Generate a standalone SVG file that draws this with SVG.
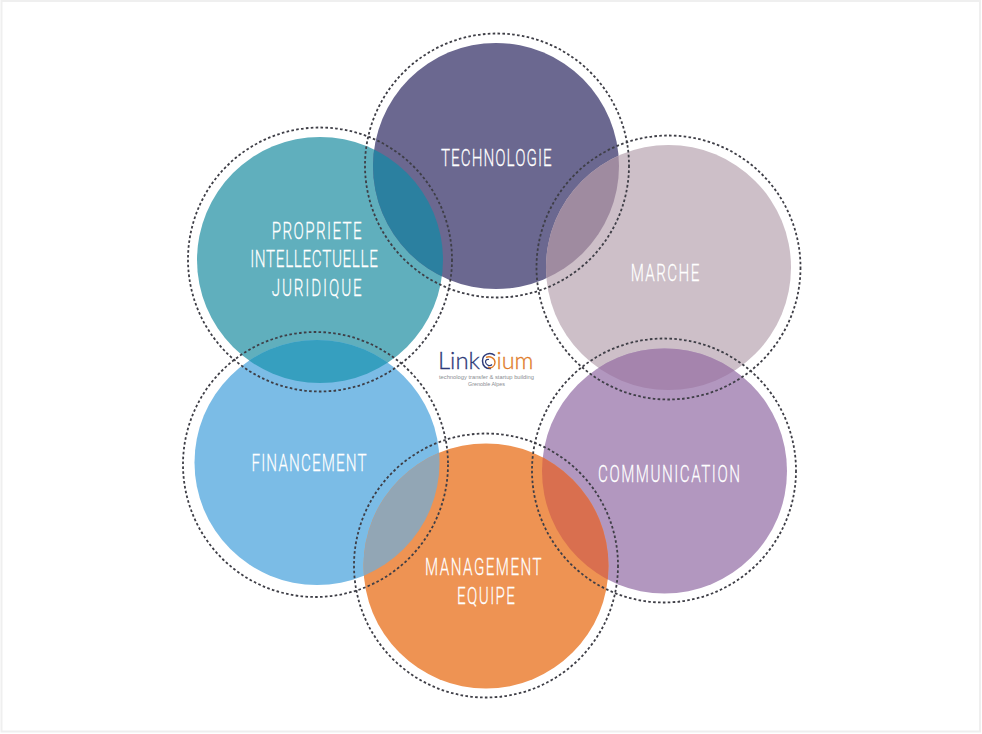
<svg xmlns="http://www.w3.org/2000/svg" width="982" height="734" viewBox="0 0 982 734">
<style>
.dot{fill:none;stroke:#3e3e46;stroke-width:1.800;stroke-dasharray:2.600 2.300}
.lbl{font-family:"Roboto","Liberation Sans",sans-serif;font-weight:300;font-size:24.500px;fill:#fff;stroke:#fff;stroke-width:.25;text-anchor:middle}
.sub{font-family:"Liberation Sans",sans-serif;font-size:5.200px;fill:#8a8d92;text-anchor:middle}
.logo{font-family:"Lato","Liberation Sans",sans-serif;font-weight:300;font-size:24px;stroke-width:.3}
</style>
<defs>
<clipPath id="cT"><circle cx="496" cy="166" r="123"/></clipPath>
<clipPath id="cC"><circle cx="664.500" cy="471" r="122.500"/></clipPath>
<clipPath id="cE"><circle cx="486" cy="566" r="122.500"/></clipPath>
<clipPath id="cF"><circle cx="317" cy="462.500" r="122.500"/></clipPath>
</defs>
<rect x="1.500" y="1" width="978.500" height="730.500" fill="#fff" stroke="#efefef" stroke-width="2"/>
<g id="node-propriete">
<circle cx="320" cy="260" r="123" fill="#60afbd"/>
<text class="lbl" transform="translate(316.700 239) scale(.62 1)" textLength="145" lengthAdjust="spacing">PROPRIETE</text>
<text class="lbl" transform="translate(314 267) scale(.62 1)" textLength="206" lengthAdjust="spacing">INTELLECTUELLE</text>
<text class="lbl" transform="translate(316.700 295.500) scale(.62 1)" textLength="145" lengthAdjust="spacing">JURIDIQUE</text>
</g>
<g id="node-technologie">
<circle cx="496" cy="166" r="123" fill="#6b6890"/>
<g clip-path="url(#cT)"><circle cx="320" cy="260" r="123" fill="#2b80a0"/></g>
<text class="lbl" transform="translate(496.300 166) scale(.62 1)" textLength="178.500" lengthAdjust="spacing">TECHNOLOGIE</text>
</g>
<g id="node-marche">
<circle cx="668.500" cy="267.500" r="122.500" fill="#cdbfc8"/>
<g clip-path="url(#cT)"><circle cx="668.500" cy="267.500" r="122.500" fill="#9f8ba0"/></g>
<text class="lbl" transform="translate(665 281) scale(.62 1)" textLength="110.600" lengthAdjust="spacing">MARCHE</text>
</g>
<g id="node-financement">
<circle cx="317" cy="462.500" r="122.500" fill="#7bbce6"/>
<g clip-path="url(#cF)"><circle cx="320" cy="260" r="123" fill="#369fbf"/></g>
<text class="lbl" transform="translate(309 470.700) scale(.62 1)" textLength="185.500" lengthAdjust="spacing">FINANCEMENT</text>
</g>
<g id="node-communication">
<circle cx="664.500" cy="471" r="122.500" fill="#b297bf"/>
<g clip-path="url(#cC)"><circle cx="668.500" cy="267.500" r="122.500" fill="#a584ad"/></g>
<text class="lbl" transform="translate(669 481.700) scale(.62 1)" textLength="229" lengthAdjust="spacing">COMMUNICATION</text>
</g>
<g id="node-management">
<circle cx="486" cy="566" r="122.500" fill="#ee9353"/>
<g clip-path="url(#cE)"><circle cx="317" cy="462.500" r="122.500" fill="#92a6b5"/></g>
<g clip-path="url(#cE)"><circle cx="664.500" cy="471" r="122.500" fill="#d96f4f"/></g>
<text class="lbl" transform="translate(483.300 575.300) scale(.62 1)" textLength="188" lengthAdjust="spacing">MANAGEMENT</text>
<text class="lbl" transform="translate(486 604) scale(.62 1)" textLength="93.500" lengthAdjust="spacing">EQUIPE</text>
</g>
<g id="connectors">
<circle class="dot" cx="320" cy="259.500" r="132"/>
<circle class="dot" cx="497" cy="165.500" r="132"/>
<circle class="dot" cx="668.500" cy="267.500" r="132"/>
<circle class="dot" cx="664" cy="470.500" r="132"/>
<circle class="dot" cx="486" cy="565.500" r="132"/>
<circle class="dot" cx="315.500" cy="464.500" r="132.500"/>
</g>
<g id="logo">
<text class="logo" x="438" y="369" fill="#2e3a78" stroke="#2e3a78" textLength="42" lengthAdjust="spacingAndGlyphs">Link</text>
<path d="M495 355.500C490 351.500 482.500 354 482.500 361C482.500 366 486 369 491 368.500" fill="none" stroke="#2e3a78" stroke-width="1.500"/>
<path d="M486 357.500C490 355.500 495 358 495 362.500C495 366.500 491 369 488 367" fill="none" stroke="#e07b28" stroke-width="1.400"/>
<path d="M492 364.500C490 366.500 486 365.500 485.500 362C485.500 360 487 359 489 359.500" fill="none" stroke="#2e3a78" stroke-width="1.200"/>
<text class="logo" x="496.500" y="369" fill="#e07b28" stroke="#e07b28" textLength="37" lengthAdjust="spacingAndGlyphs">ium</text>
<text class="sub" x="486.500" y="378.500" textLength="95" lengthAdjust="spacingAndGlyphs">technology transfer &amp; startup building</text>
<text class="sub" x="486.500" y="385.500" textLength="37" lengthAdjust="spacingAndGlyphs">Grenoble Alpes</text>
</g>
</svg>
